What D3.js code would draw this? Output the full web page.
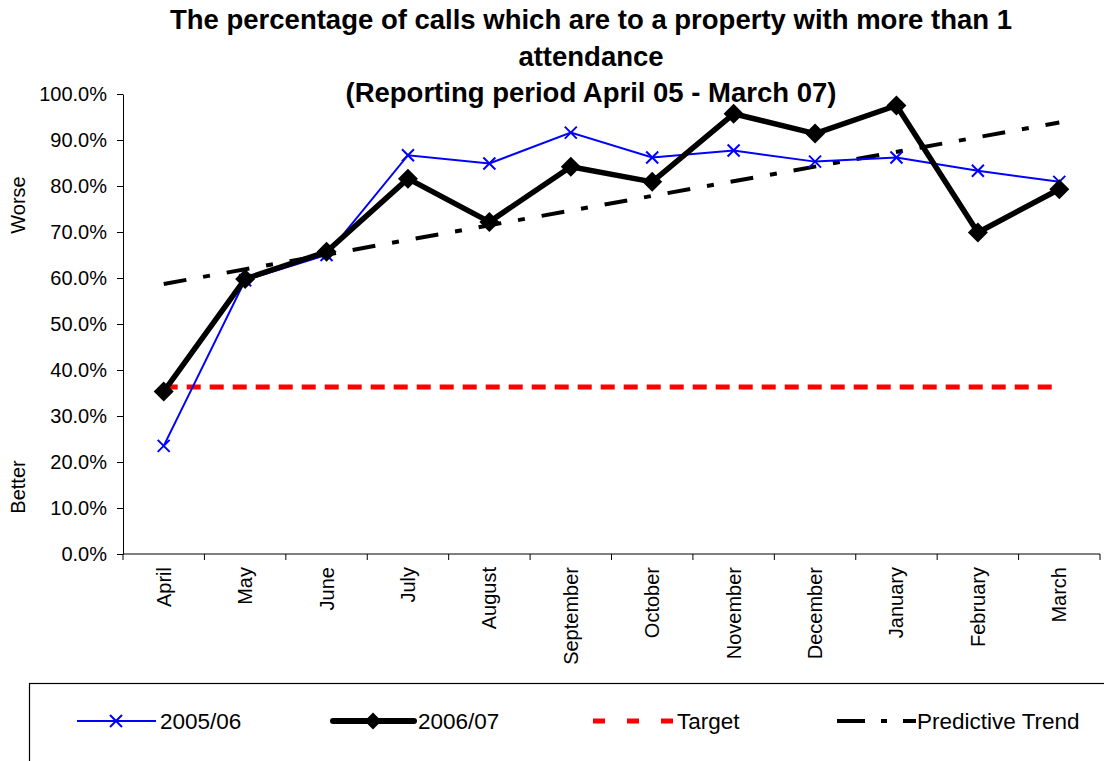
<!DOCTYPE html>
<html>
<head>
<meta charset="utf-8">
<script src="https://cdn.jsdelivr.net/npm/d3@7"></script>
<style>
  body { margin: 0; background: #fff; }
  svg { display: block; font-family: "Liberation Sans", Arial, sans-serif; }
  .tick text { font-size: 20px; fill: #000; }
</style>
</head>
<body>
<svg width="1104" height="761"></svg>
<script>
// chart data
const months = ["April", "May", "June", "July", "August", "September",
  "October", "November", "December", "January", "February", "March"];
const values0506 = [23.5, 59.5, 65.0, 86.7, 84.9, 91.6, 86.2, 87.7, 85.3, 86.2, 83.3, 80.9];
const values0607 = [35.3, 59.8, 65.7, 81.6, 72.2, 84.2, 80.9, 95.7, 91.4, 97.5, 69.9, 79.3];
const targetValue = 36.3;
const trendEnds = [58.7, 93.8]; // April, March
const yTicks = [0, 10, 20, 30, 40, 50, 60, 70, 80, 90, 100];
const titleLines = [
  "The percentage of calls which are to a property with more than 1",
  "attendance",
  "(Reporting period April 05 - March 07)"
];

const svg = d3.select("svg");
const plotLeft = 123, plotRight = 1100, plotTop = 94, plotBottom = 554;

const x = d3.scaleBand().domain(months).range([plotLeft, plotRight]);
const cx = (m) => x(m) + x.bandwidth() / 2;
const y = d3.scaleLinear().domain([0, 100]).range([plotBottom, plotTop]);

// title
svg.append("g")
  .selectAll("text")
  .data(titleLines)
  .enter()
  .append("text")
  .attr("x", 591)
  .attr("y", (d, i) => 29 + i * 36.5)
  .attr("text-anchor", "middle")
  .style("font-size", "27.5px")
  .style("font-weight", "bold")
  .text(d => d);

// y axis
const yAxis = d3.axisLeft(y)
  .tickValues(yTicks)
  .tickSize(6)
  .tickSizeOuter(0)
  .tickPadding(10)
  .tickFormat(d => d.toFixed(1) + "%");

svg.append("g")
  .attr("transform", `translate(${plotLeft},0)`)
  .call(yAxis)
  .call(g => g.selectAll("path, line").attr("stroke", "#000"));

// x axis: ticks sit on the band edges
const xg = svg.append("g");
xg.append("line")
  .attr("x1", plotLeft).attr("x2", plotRight)
  .attr("y1", plotBottom).attr("y2", plotBottom)
  .attr("stroke", "#000");
xg.selectAll(".xtick")
  .data(months.map(m => x(m)).concat([plotRight]))
  .enter()
  .append("line")
  .attr("x1", d => d).attr("x2", d => d)
  .attr("y1", plotBottom).attr("y2", plotBottom + 6)
  .attr("stroke", "#000");
xg.selectAll(".xlabel")
  .data(months)
  .enter()
  .append("text")
  .attr("transform", d => `translate(${cx(d)},567) rotate(-90)`)
  .attr("dy", "0.35em")
  .attr("text-anchor", "end")
  .style("font-size", "20px")
  .text(d => d);

// side labels
svg.append("text")
  .attr("transform", "translate(18,205) rotate(-90)")
  .attr("dy", "0.35em")
  .attr("text-anchor", "middle")
  .style("font-size", "20px")
  .text("Worse");
svg.append("text")
  .attr("transform", "translate(18,487) rotate(-90)")
  .attr("dy", "0.35em")
  .attr("text-anchor", "middle")
  .style("font-size", "20px")
  .text("Better");

// target
svg.append("line")
  .attr("x1", cx(months[0])).attr("x2", cx(months[months.length - 1]))
  .attr("y1", y(targetValue)).attr("y2", y(targetValue))
  .attr("stroke", "#ff0000")
  .attr("stroke-width", 5)
  .attr("stroke-dasharray", "14,9");

// predictive trend
svg.append("line")
  .attr("x1", cx(months[0])).attr("x2", cx(months[months.length - 1]))
  .attr("y1", y(trendEnds[0])).attr("y2", y(trendEnds[1]))
  .attr("stroke", "#000")
  .attr("stroke-width", 4)
  .attr("stroke-dasharray", "23,17,7,17");

const line = d3.line()
  .x((d, i) => cx(months[i]))
  .y(d => y(d));

// 2005/06
svg.append("path")
  .datum(values0506)
  .attr("d", line)
  .attr("fill", "none")
  .attr("stroke", "#0000ff")
  .attr("stroke-width", 2);

const crossPath = (s) => `M${-s},${-s}L${s},${s}M${-s},${s}L${s},${-s}`;
svg.selectAll(".cross")
  .data(values0506)
  .enter()
  .append("path")
  .attr("transform", (d, i) => `translate(${cx(months[i])},${y(d)})`)
  .attr("d", crossPath(6))
  .attr("stroke", "#0000ff")
  .attr("stroke-width", 2);

// 2006/07
svg.append("path")
  .datum(values0607)
  .attr("d", line)
  .attr("fill", "none")
  .attr("stroke", "#000")
  .attr("stroke-width", 5.5)
  .attr("stroke-linejoin", "round");

const diamondPath = (s) => `M0,${-s}L${s},0L0,${s}L${-s},0Z`;
svg.selectAll(".diamond")
  .data(values0607)
  .enter()
  .append("path")
  .attr("transform", (d, i) => `translate(${cx(months[i])},${y(d)})`)
  .attr("d", diamondPath(10))
  .attr("fill", "#000");

// legend
const ly = 721;
svg.append("rect")
  .attr("x", 29.5).attr("y", 683.5)
  .attr("width", 1100).attr("height", 100)
  .attr("fill", "none")
  .attr("stroke", "#000")
  .attr("stroke-width", 1.2);

const legend = svg.append("g").style("font-size", "22.5px");

legend.append("line")
  .attr("x1", 77).attr("x2", 156).attr("y1", ly).attr("y2", ly)
  .attr("stroke", "#0000ff").attr("stroke-width", 2);
legend.append("path")
  .attr("transform", `translate(116,${ly})`)
  .attr("d", crossPath(6))
  .attr("stroke", "#0000ff").attr("stroke-width", 2);
legend.append("text").attr("x", 160).attr("y", ly).attr("dy", "0.35em").text("2005/06");

legend.append("line")
  .attr("x1", 333).attr("x2", 414).attr("y1", ly).attr("y2", ly)
  .attr("stroke", "#000").attr("stroke-width", 6).attr("stroke-linecap", "round");
legend.append("path")
  .attr("transform", `translate(373,${ly})`)
  .attr("d", diamondPath(8.5))
  .attr("fill", "#000");
legend.append("text").attr("x", 418).attr("y", ly).attr("dy", "0.35em").text("2006/07");

legend.append("line")
  .attr("x1", 593).attr("x2", 673).attr("y1", ly).attr("y2", ly)
  .attr("stroke", "#ff0000").attr("stroke-width", 5)
  .attr("stroke-dasharray", "12,22");
legend.append("text").attr("x", 677).attr("y", ly).attr("dy", "0.35em").text("Target");

legend.append("line")
  .attr("x1", 837).attr("x2", 916).attr("y1", ly).attr("y2", ly)
  .attr("stroke", "#000").attr("stroke-width", 4)
  .attr("stroke-dasharray", "28,16,6,16");
legend.append("text").attr("x", 917).attr("y", ly).attr("dy", "0.35em").text("Predictive Trend");
</script>
</body>
</html>
